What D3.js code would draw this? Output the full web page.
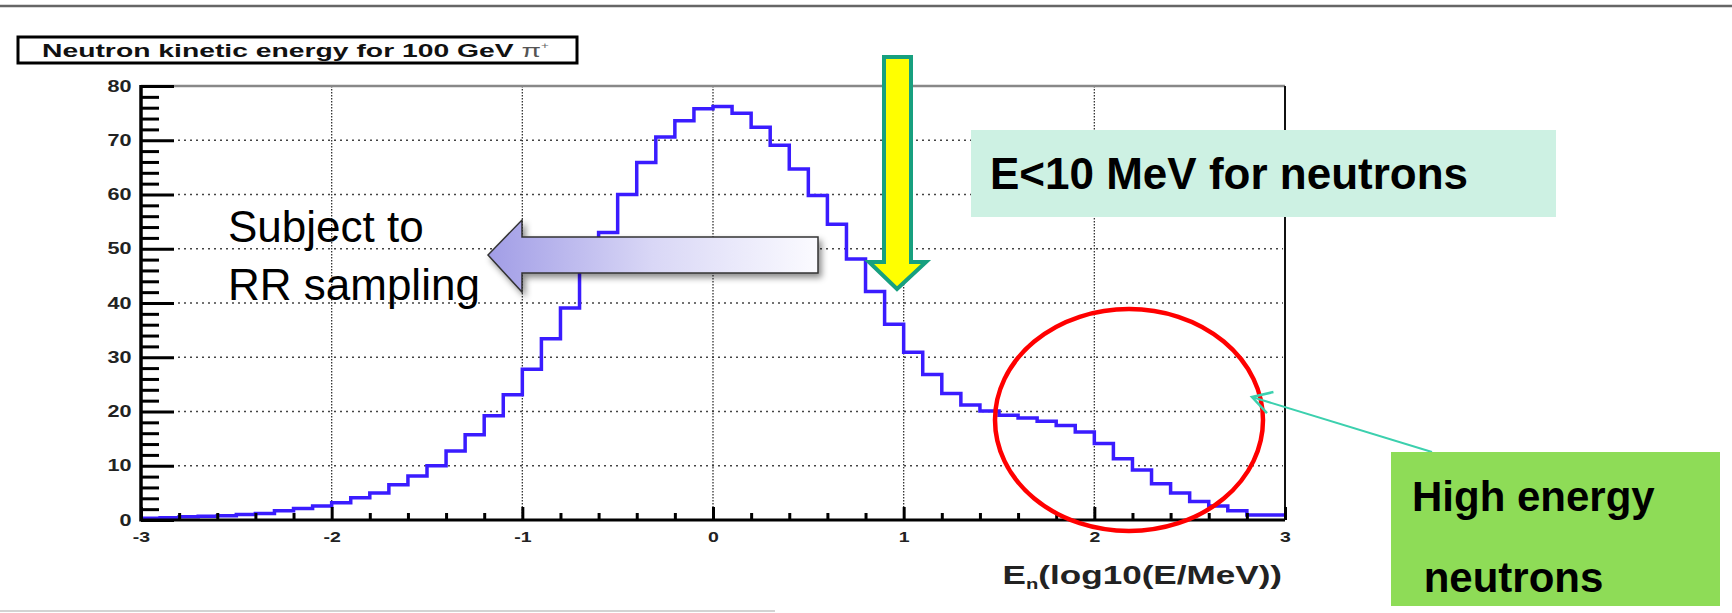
<!DOCTYPE html>
<html>
<head>
<meta charset="utf-8">
<script src="https://cdn.jsdelivr.net/npm/d3@7"></script>
<style>
body { margin: 0; background: #fff; }
svg { display: block; font-family: "Liberation Sans", Arial, Helvetica, sans-serif; }
</style>
</head>
<body>
<script>
// histogram contents, 60 bins of 0.1 in log10(E/MeV) from -3 to 3
var counts = [0.3, 0.4, 0.6, 0.7, 0.8, 1.0, 1.2, 1.7, 2.1, 2.6,
  3.2, 4.1, 5.0, 6.5, 8.1, 10.0, 12.7, 15.7, 19.2, 23.1,
  27.8, 33.4, 39.1, 47.0, 53.0, 60.0, 65.9, 70.6, 73.6, 75.8,
  76.2, 75.0, 72.4, 69.1, 64.7, 59.8, 54.5, 48.1, 42.1, 36.1,
  30.9, 26.8, 23.3, 21.2, 20.1, 19.3, 18.8, 18.2, 17.4, 16.2,
  14.1, 11.3, 9.2, 6.7, 5.0, 3.4, 2.6, 1.7, 0.9, 0.9];
var binLow = -3, binWidth = 0.1;
var xTicks = [-3, -2, -1, 0, 1, 2, 3];
var yTicks = [0, 10, 20, 30, 40, 50, 60, 70, 80];
var xGrid = [-2, -1, 0, 1, 2];
var yGrid = [10, 20, 30, 40, 50, 60, 70];
var titleText = "Neutron kinetic energy for 100 GeV ";
var noteLeft = ["Subject to", "RR sampling"];
var noteTop = "E<10 MeV for neutrons";
var noteRight = ["High energy", " neutrons"];

var W = 1732, H = 613;
var x = d3.scaleLinear().domain([-3, 3]).range([141, 1285]);
var y = d3.scaleLinear().domain([0, 80]).range([520, 86]);

var svg = d3.select("body").append("svg")
  .attr("width", W)
  .attr("height", H);

var defs = svg.append("defs");
var grad = defs.append("linearGradient").attr("id", "purp")
  .attr("x1", 0).attr("x2", 1).attr("y1", 0).attr("y2", 0);
grad.append("stop").attr("offset", 0).attr("stop-color", "#a19de6");
grad.append("stop").attr("offset", 0.5).attr("stop-color", "#d9d7f6");
grad.append("stop").attr("offset", 1).attr("stop-color", "#fbfbff");
var shadow = defs.append("filter").attr("id", "shd")
  .attr("x", "-10%").attr("y", "-30%").attr("width", "130%").attr("height", "180%");
shadow.append("feDropShadow").attr("dx", 3).attr("dy", 4).attr("stdDeviation", 3)
  .attr("flood-color", "#000").attr("flood-opacity", 0.45);

// slide rules
svg.append("line").attr("x1", 0).attr("x2", W).attr("y1", 6).attr("y2", 6)
  .attr("stroke", "#666").attr("stroke-width", 2.5);
svg.append("line").attr("x1", 0).attr("x2", 775).attr("y1", 611).attr("y2", 611)
  .attr("stroke", "#c4c4c4").attr("stroke-width", 1.5);

// title box
svg.append("rect").attr("x", 18).attr("y", 37).attr("width", 559).attr("height", 26)
  .attr("fill", "#fff").attr("stroke", "#000").attr("stroke-width", 3);
var tt = svg.append("text")
  .attr("transform", "translate(42,57) scale(1.49,1)")
  .attr("font-size", 19).attr("font-weight", "bold").attr("fill", "#111");
tt.append("tspan").text(titleText);
tt.append("tspan").attr("font-weight", "normal").attr("fill", "#555").text("\u03c0");
tt.append("tspan").attr("font-weight", "normal").attr("fill", "#666")
  .attr("font-size", 9).attr("dy", -8).text("+");

// grid
var grid = svg.append("g");
grid.selectAll(".hg").data(yGrid).enter().append("line")
  .attr("x1", 178).attr("x2", x(3) - 2)
  .attr("y1", function(d) { return y(d); }).attr("y2", function(d) { return y(d); })
  .attr("stroke", "#444").attr("stroke-width", 1.7).attr("stroke-dasharray", "2,4");
grid.selectAll(".vg").data(xGrid).enter().append("line")
  .attr("x1", function(d) { return x(d); }).attr("x2", function(d) { return x(d); })
  .attr("y1", y(80)).attr("y2", y(0))
  .attr("stroke", "#333").attr("stroke-width", 1.3).attr("stroke-dasharray", "1.5,1.5");

// histogram as steps
var pts = counts.map(function(c, i) { return [binLow + i * binWidth, c]; });
pts.push([binLow + counts.length * binWidth, counts[counts.length - 1]]);
var step = d3.line()
  .x(function(d) { return x(d[0]); })
  .y(function(d) { return y(d[1]); })
  .curve(d3.curveStepAfter);
svg.append("path").datum(pts)
  .attr("d", step)
  .attr("fill", "none").attr("stroke", "#3a1cff").attr("stroke-width", 3.5);

// frame
svg.append("line").attr("x1", x(-3)).attr("x2", x(3)).attr("y1", y(80)).attr("y2", y(80))
  .attr("stroke", "#888").attr("stroke-width", 2.5);
svg.append("line").attr("x1", x(3)).attr("x2", x(3)).attr("y1", y(80)).attr("y2", y(0))
  .attr("stroke", "#111").attr("stroke-width", 2);

var plain = function(d) { return String(d); };

// y axis
var yMinor = d3.range(0, 81, 2).filter(function(d) { return d % 10 !== 0; });
var yAxisMinor = svg.append("g").attr("transform", "translate(" + x(-3) + ",0)")
  .call(d3.axisLeft(y).tickValues(yMinor).tickSizeInner(-18).tickSizeOuter(0).tickFormat(""));
var yAxisG = svg.append("g").attr("transform", "translate(" + x(-3) + ",0)")
  .call(d3.axisLeft(y).tickValues(yTicks).tickSizeInner(-33).tickSizeOuter(0).tickPadding(7).tickFormat(plain));
// x axis
var xMinor = d3.range(-30, 31, 2).filter(function(d) { return d % 10 !== 0; }).map(function(d) { return d / 10; });
var xAxisMinor = svg.append("g").attr("transform", "translate(0," + y(0) + ")")
  .call(d3.axisBottom(x).tickValues(xMinor).tickSizeInner(-7).tickSizeOuter(0).tickFormat(""));
var xAxisG = svg.append("g").attr("transform", "translate(0," + y(0) + ")")
  .call(d3.axisBottom(x).tickValues(xTicks).tickSizeInner(-13).tickSizeOuter(0).tickPadding(11).tickFormat(plain));

[yAxisMinor, yAxisG, xAxisMinor, xAxisG].forEach(function(g) {
  g.select(".domain").remove();
  g.selectAll(".tick line").attr("stroke", "#000").attr("stroke-width", 3);
});
yAxisG.selectAll(".tick text")
  .attr("font-size", 16).attr("font-weight", "bold").attr("fill", "#222")
  .attr("font-family", "Liberation Sans, Arial, sans-serif")
  .attr("transform", "scale(1.35,1)");
xAxisG.selectAll(".tick text")
  .attr("font-size", 15).attr("font-weight", "bold").attr("fill", "#222")
  .attr("font-family", "Liberation Sans, Arial, sans-serif")
  .attr("transform", "scale(1.3,1)");

svg.append("line").attr("x1", x(-3)).attr("x2", x(-3)).attr("y1", y(80) - 1).attr("y2", y(0) + 1.5)
  .attr("stroke", "#000").attr("stroke-width", 3.5);
svg.append("line").attr("x1", x(-3)).attr("x2", x(3)).attr("y1", y(0)).attr("y2", y(0))
  .attr("stroke", "#000").attr("stroke-width", 3);

// x axis title
var xt = svg.append("text")
  .attr("transform", "translate(1282,584) scale(1.35,1)")
  .attr("text-anchor", "end")
  .attr("font-size", 26).attr("font-weight", "bold").attr("fill", "#222");
xt.append("tspan").text("E");
xt.append("tspan").attr("font-size", 15).attr("dy", 5).text("n");
xt.append("tspan").attr("dy", -5).text("(log10(E/MeV))");

// left note and arrow
var nl = svg.append("text").attr("font-size", 44).attr("fill", "#000");
nl.selectAll("tspan").data(noteLeft).enter().append("tspan")
  .attr("x", 228).attr("y", function(d, i) { return 242 + i * 58; })
  .text(function(d) { return d; });
svg.append("polygon")
  .attr("points", "488,255 522,220 522,237 818,237 818,273 522,273 522,292")
  .attr("fill", "url(#purp)").attr("stroke", "#333").attr("stroke-width", 1.5)
  .attr("filter", "url(#shd)");

// yellow arrow
svg.append("polygon")
  .attr("points", "884,57 911,57 911,262 926,262 897,289 869,262 884,262")
  .attr("fill", "#ffff00").attr("stroke", "#17a07f").attr("stroke-width", 4);

// top note
svg.append("rect").attr("x", 971).attr("y", 130).attr("width", 585).attr("height", 87)
  .attr("fill", "#cdf1e3");
svg.append("text").attr("x", 990).attr("y", 189)
  .attr("font-size", 44).attr("font-weight", "bold").attr("fill", "#000")
  .text(noteTop);

// red ellipse
svg.append("ellipse").attr("cx", 1129).attr("cy", 420).attr("rx", 134).attr("ry", 111)
  .attr("fill", "none").attr("stroke", "#ff0000").attr("stroke-width", 4.5);

// pointer from green note
var tip = [1252, 397], tail = [1432, 452];
var ang = Math.atan2(tail[1] - tip[1], tail[0] - tip[0]);
var wing = 22, spread = Math.PI / 6;
svg.append("line").attr("x1", tail[0]).attr("y1", tail[1]).attr("x2", tip[0]).attr("y2", tip[1])
  .attr("stroke", "#3cd0ae").attr("stroke-width", 2);
svg.append("path")
  .attr("d", "M" + (tip[0] + wing * Math.cos(ang - spread)) + "," + (tip[1] + wing * Math.sin(ang - spread)) +
    "L" + tip[0] + "," + tip[1] +
    "L" + (tip[0] + wing * Math.cos(ang + spread)) + "," + (tip[1] + wing * Math.sin(ang + spread)))
  .attr("fill", "none").attr("stroke", "#3cd0ae").attr("stroke-width", 2.5);

// green note
svg.append("rect").attr("x", 1391).attr("y", 452).attr("width", 329).attr("height", 154)
  .attr("fill", "#8edc57");
var nr = svg.append("text").attr("font-size", 42).attr("font-weight", "bold").attr("fill", "#000");
nr.selectAll("tspan").data(noteRight).enter().append("tspan")
  .attr("x", 1412).attr("y", function(d, i) { return 511 + i * 81; })
  .text(function(d) { return d; });
</script>
</body>
</html>
